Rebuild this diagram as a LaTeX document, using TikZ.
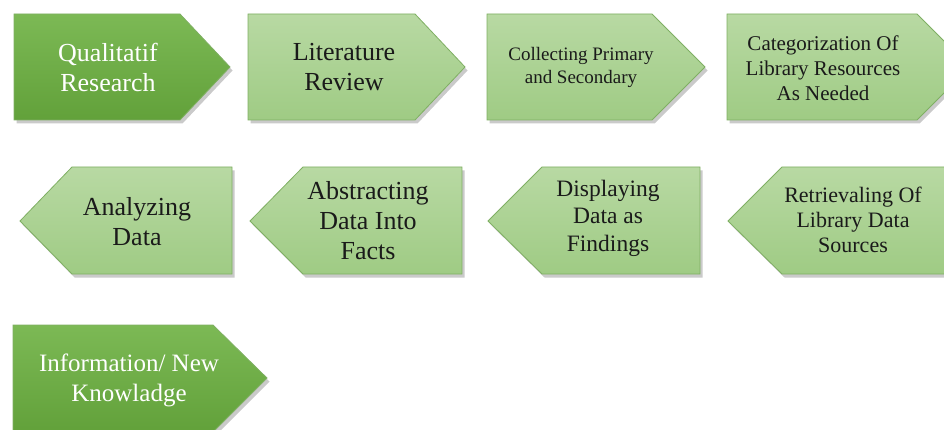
\documentclass[tikz,border=0pt]{standalone}
\usepackage{fontspec}
\setmainfont{Liberation Serif}
\usetikzlibrary{shadows}
\definecolor{darkA}{HTML}{7CB955}
\definecolor{darkB}{HTML}{62A13A}
\definecolor{lightA}{HTML}{B8D9A3}
\definecolor{lightB}{HTML}{9FCB84}
\definecolor{edgeG}{HTML}{7FAF63}
\definecolor{txt}{HTML}{1A1A1A}
\tikzset{
  shp/.style={draw=edgeG, line width=0.8pt, line join=miter,
    drop shadow={shadow xshift=2.5pt, shadow yshift=-3.5pt, opacity=0.35, fill=black!60}},
  darkshp/.style={shp, top color=darkA, bottom color=darkB},
  lightshp/.style={shp, top color=lightA, bottom color=lightB},
  lbl/.style={align=center, text=txt, inner sep=0pt},
  wlbl/.style={lbl, text=white},
}
\begin{document}
\begin{tikzpicture}[x=1pt,y=-1pt]
\useasboundingbox (0,0) rectangle (944,430);
% row 1 (pointing right)
\path[darkshp] (14,14) -- (180,14) -- (230,67) -- (180,120) -- (14,120) -- cycle;
\path[lightshp] (248,14) -- (415,14) -- (465,67) -- (415,120) -- (248,120) -- cycle;
\path[lightshp] (487,14) -- (652,14) -- (705,67) -- (652,120) -- (487,120) -- cycle;
\path[lightshp] (727,14) -- (917,14) -- (970,67) -- (917,120) -- (727,120) -- cycle;
% row 2 (pointing left)
\path[lightshp] (232,167) -- (72,167) -- (20,221) -- (72,274) -- (232,274) -- cycle;
\path[lightshp] (462,167) -- (303,167) -- (250,221) -- (303,274) -- (462,274) -- cycle;
\path[lightshp] (700,167) -- (542,167) -- (488,221) -- (542,274) -- (700,274) -- cycle;
\path[lightshp] (990,167) -- (782,167) -- (728,221) -- (782,274) -- (990,274) -- cycle;
% row 3
\path[darkshp] (13,325) -- (213,325) -- (267,378) -- (213,432) -- (13,432) -- cycle;
% labels
\node[wlbl, font=\fontsize{26}{30}\selectfont] (q) at (108,67) {Qualitatif\\Research};
\node[lbl, font=\fontsize{26}{30}\selectfont] (lit) at (344,67) {Literature\\Review};
\node[lbl, font=\fontsize{19}{23}\selectfont] (col) at (581,67) {Collecting Primary\\and Secondary};
\node[lbl, font=\fontsize{21}{25}\selectfont] (cat) at (823,68) {Categorization Of\\Library Resources\\As Needed};
\node[lbl, font=\fontsize{26}{30}\selectfont] (ana) at (137,222) {Analyzing\\Data};
\node[lbl, font=\fontsize{26}{30}\selectfont] (abs) at (368,221) {Abstracting\\Data Into\\Facts};
\node[lbl, font=\fontsize{23.5}{27.5}\selectfont] (dis) at (608,218) {Displaying\\Data as\\Findings};
\node[lbl, font=\fontsize{22}{25}\selectfont] (ret) at (853,220) {Retrievaling Of\\Library Data\\Sources};
\node[wlbl, font=\fontsize{25}{30}\selectfont] (inf) at (129,380) {Information/ New\\Knowladge};
\end{tikzpicture}
\end{document}
